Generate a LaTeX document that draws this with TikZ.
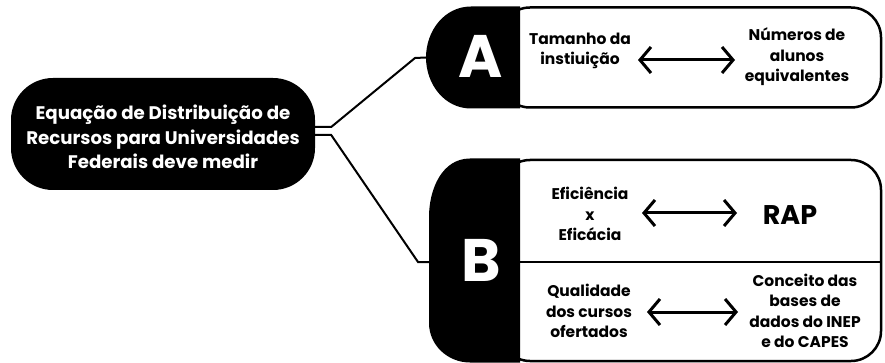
\documentclass[tikz,border=0pt]{standalone}
\usepackage{fontspec}
\setmainfont{Poppins}
\usetikzlibrary{positioning,arrows.meta}

\begin{document}
\begin{tikzpicture}[x=1pt,y=-1pt]
	\tikzset{
		txt/.style={align=center,inner sep=0pt,font=\fontsize{15.5}{20.5}\selectfont\bfseries},
		maintxt/.style={align=center,inner sep=0pt,text=white,font=\fontsize{18.2}{24.5}\selectfont\bfseries},
		letter/.style={inner sep=0pt,text=white,font=\fontsize{60}{60}\selectfont\bfseries},
		frame/.style={draw,fill=white,line width=2.5pt,rounded corners=30pt},
		link/.style={line width=2pt},
		twoway/.style={line width=3pt,{Straight Barb[length=11pt,width=26pt]}-{Straight Barb[length=11pt,width=26pt]}}
	}
	\useasboundingbox (0,0) rectangle (885,363);

	% central box
	\node[fill=black,rounded corners=42pt,minimum width=304pt,minimum height=112pt] (eq) at (163,134) {};
	\node[maintxt] (eqtxt) at (163,137) {Equação de Distribuição de\\Recursos para Universidades\\Federais deve medir};

	% box A
	\node[frame,minimum width=381pt,minimum height=100pt] (boxA) at (690.5,57.5) {};
	\fill (520,6.5) -- (471,6.5) to[out=180,in=90] (426,57.5) to[out=-90,in=180] (471,108.5) -- (520,108.5) -- cycle;
	\coordinate (tabA) at (426,57.5);
	\node[letter] (A) at (481,56) {A};
	\node[txt] (tam) at (580,51) {Tamanho da\\instiuição};
	\node[txt] (num) at (797,57) {Números de\\alunos\\equivalentes};
	\coordinate (a1) at (638,60);
	\coordinate (a2) at (735,60);
	\draw[twoway] (a1) -- (a2);

	% box B
	\node[frame,minimum width=381pt,minimum height=201pt] (boxB) at (690.5,260.5) {};
	\draw[link,line width=2.5pt] (520,262) -- (boxB.east |- 0,262);
	\fill (520,158.5) -- (470,158.5) to[out=180,in=90] (429,217) -- (429,323) to[out=-90,in=180] (470,362.5) -- (520,362.5) -- cycle;
	\coordinate (tabB) at (429,262);
	\node[letter] (B) at (481,260) {B};
	\node[txt] (efi) at (590,214) {Eficiência\\x\\Eficácia};
	\node[inner sep=0pt,font=\fontsize{27}{27}\selectfont\bfseries] (rap) at (790,215) {RAP};
	\coordinate (b1) at (642,213);
	\coordinate (b2) at (737,213);
	\draw[twoway] (b1) -- (b2);
	\node[txt] (qua) at (589,311) {Qualidade\\dos cursos\\ofertados};
	\node[txt] (con) at (805,311) {Conceito das\\bases de\\dados do INEP\\e do CAPES};
	\coordinate (c1) at (647,312);
	\coordinate (c2) at (738,312);
	\draw[twoway] (c1) -- (c2);

	% connectors
	\draw[link] ([yshift=7pt]eq.east) -- ++(16,0) -- (415,58) -- (tabA);
	\draw[link] ([yshift=-1pt]eq.east) -- ++(16,0) -- (418,262) -- (tabB);
\end{tikzpicture}
\end{document}
